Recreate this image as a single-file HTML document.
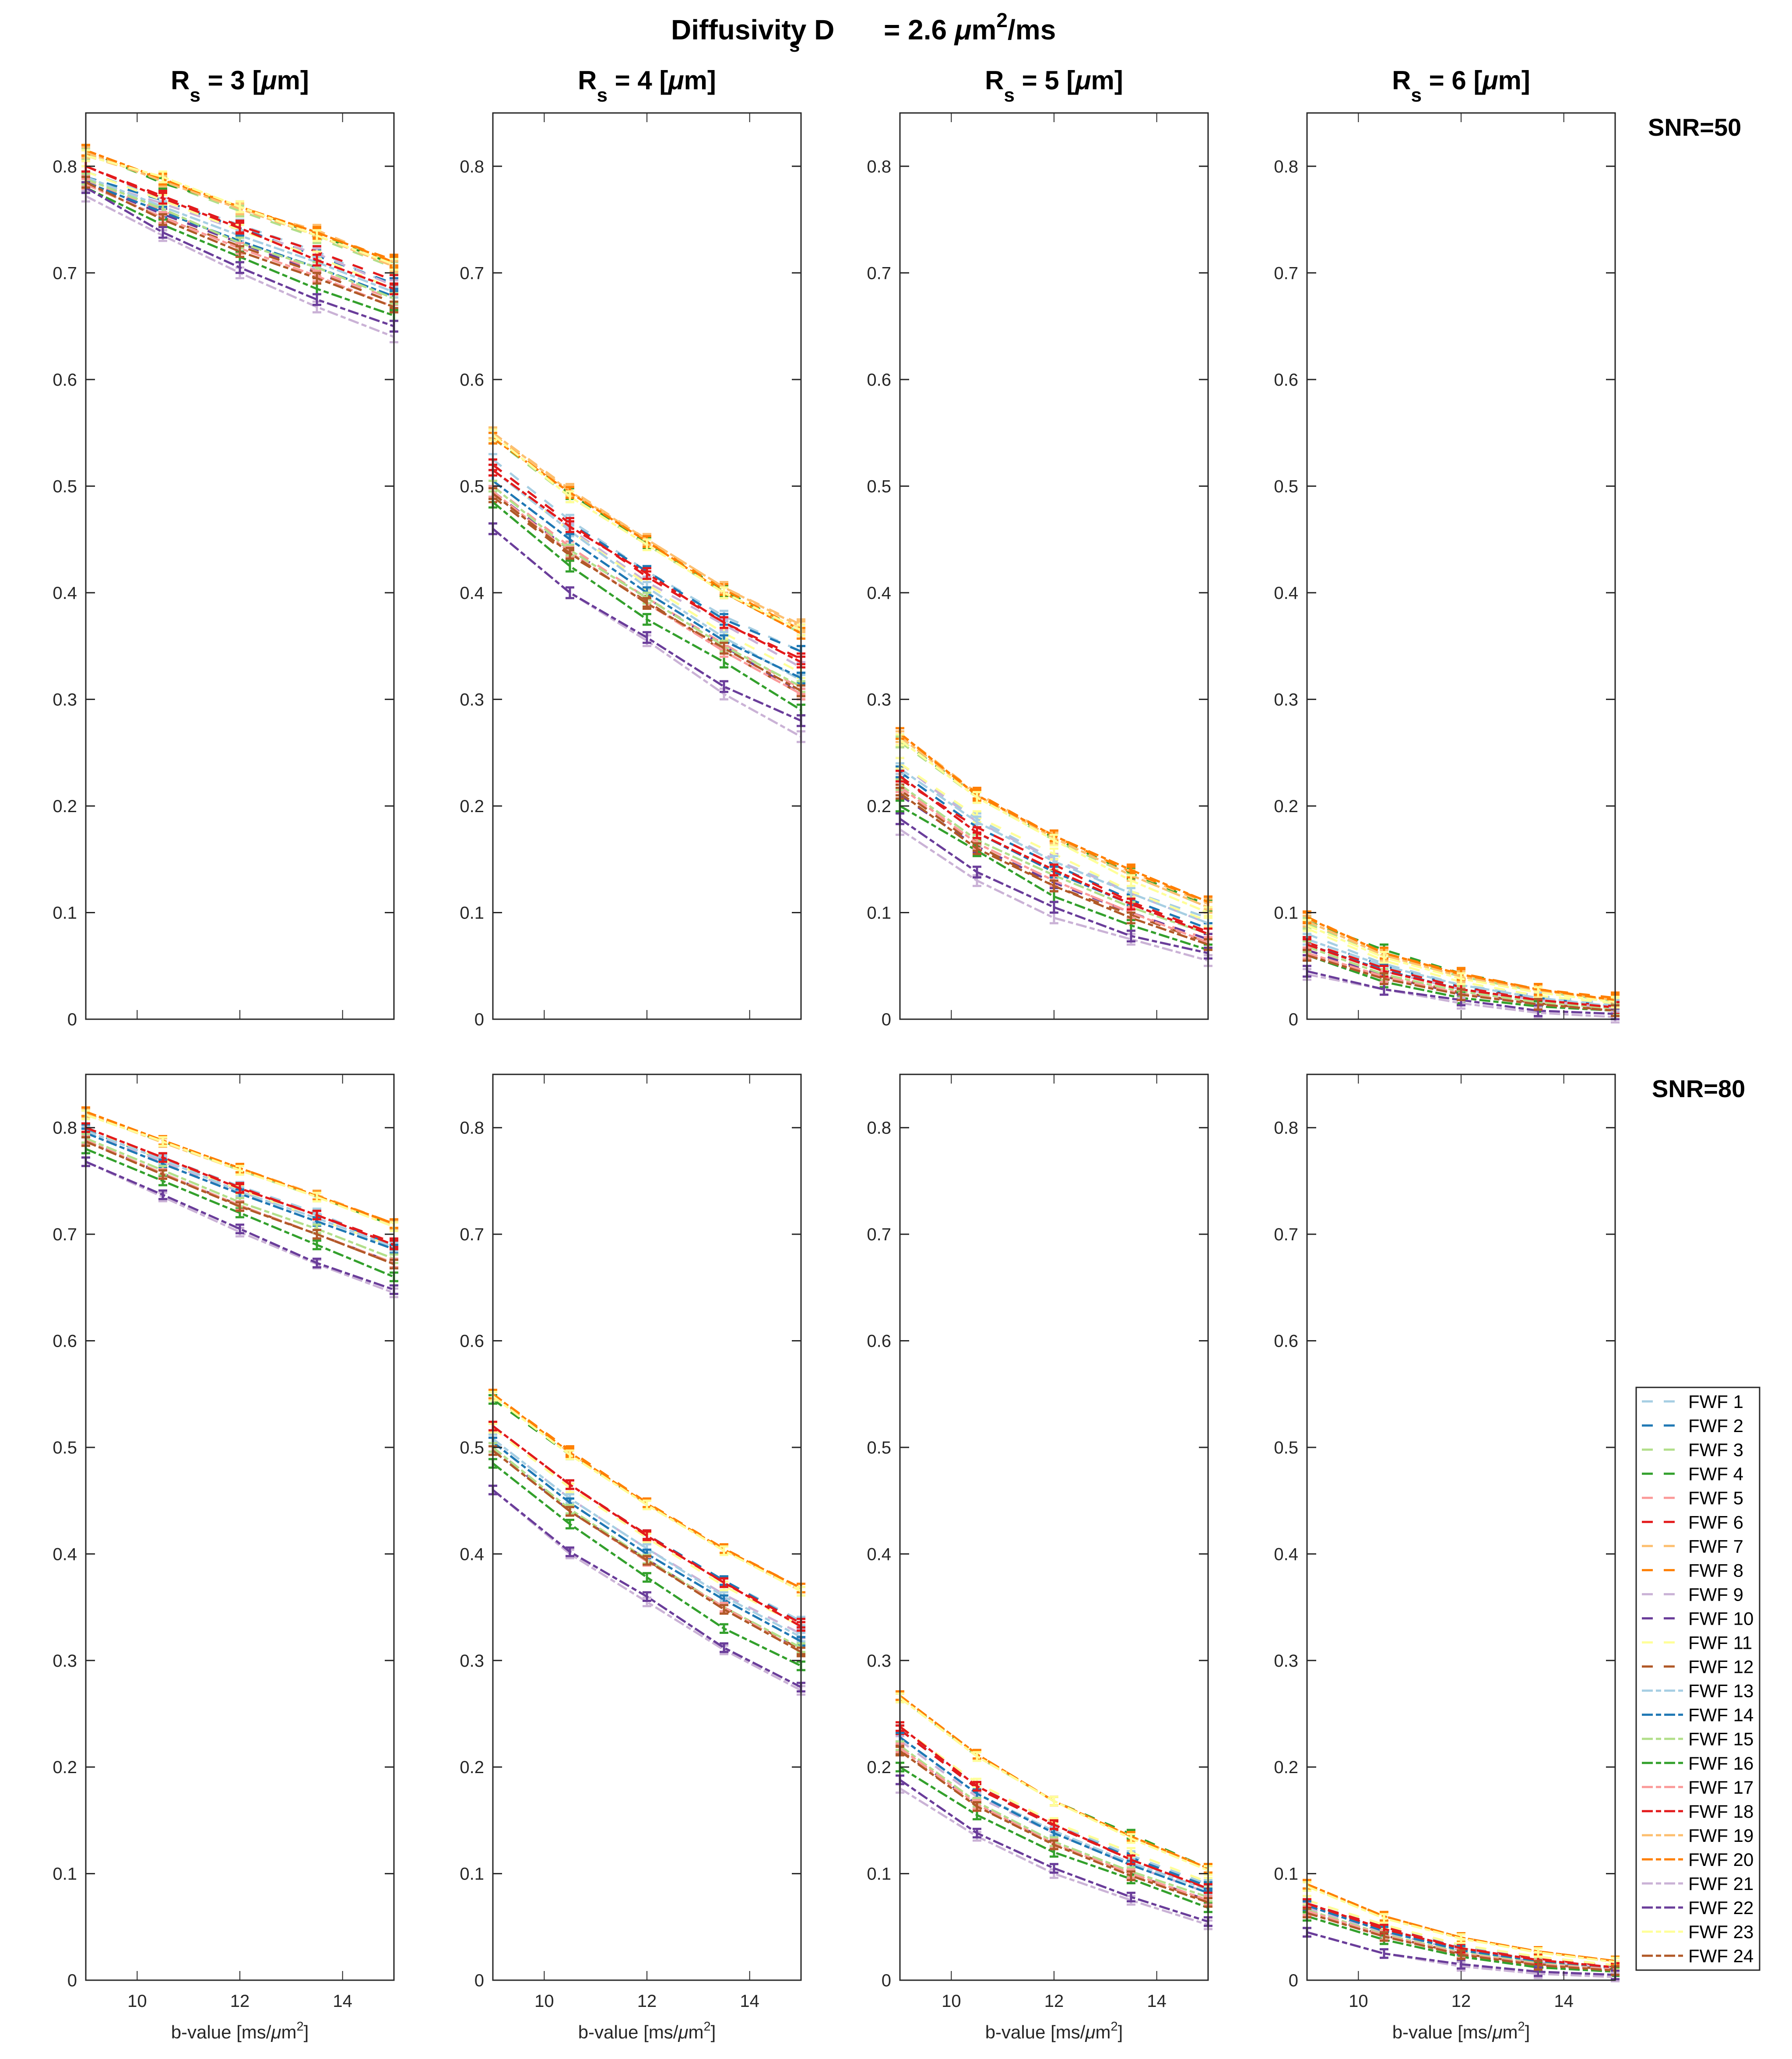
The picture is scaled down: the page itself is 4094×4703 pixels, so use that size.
<!DOCTYPE html>
<html><head><meta charset="utf-8">
<style>
html,body{margin:0;padding:0;background:#fff;}
svg{display:block;font-family:"Liberation Sans",sans-serif;}
</style></head>
<body>
<svg id="chart" width="4094" height="4703" viewBox="0 0 4094 4703" xmlns="http://www.w3.org/2000/svg">
<rect x="0" y="0" width="4094" height="4703" fill="#fff"/>
<text x="1533" y="90" font-size="64" font-weight="bold" fill="#000">Diffusivity D</text>
<text x="1803" y="118" font-size="44" font-weight="bold" fill="#000">s</text>
<text x="2019" y="90" font-size="64" font-weight="bold" fill="#000">= 2.6 <tspan font-style="italic">μ</tspan>m<tspan dy="-28" font-size="46">2</tspan><tspan dy="28">/ms</tspan></text>
<text x="3765" y="310" font-size="56" font-weight="bold" fill="#000">SNR=50</text>
<text x="3774" y="2506" font-size="56" font-weight="bold" fill="#000">SNR=80</text>
<g id="panels"></g>
<g id="legend"></g>
</svg>
<script>
const xValues = [9, 10.5, 12, 13.5, 15];
const xTicks = [10, 12, 14];
const yTicks = [0, 0.1, 0.2, 0.3, 0.4, 0.5, 0.6, 0.7, 0.8];
const yTickLabels = ["0","0.1","0.2","0.3","0.4","0.5","0.6","0.7","0.8"];
const radii = ["3","4","5","6"];
const seriesNames = ["FWF 1","FWF 2","FWF 3","FWF 4","FWF 5","FWF 6","FWF 7","FWF 8","FWF 9","FWF 10","FWF 11","FWF 12","FWF 13","FWF 14","FWF 15","FWF 16","FWF 17","FWF 18","FWF 19","FWF 20","FWF 21","FWF 22","FWF 23","FWF 24"];
const errHalf = [0.005, 0.004];

const snr50R3 = [
[.795,.77,.745,.72,.688],[.79,.768,.742,.716,.69],[.812,.785,.758,.733,.705],[.815,.784,.762,.736,.708],
[.786,.758,.728,.702,.675],[.80,.772,.744,.72,.693],[.81,.788,.76,.74,.71],[.815,.787,.762,.737,.712],
[.788,.765,.74,.718,.688],[.785,.755,.728,.70,.672],[.795,.768,.74,.715,.685],[.783,.752,.725,.70,.672],
[.79,.762,.735,.71,.682],[.785,.757,.73,.705,.678],[.788,.76,.728,.705,.676],[.78,.745,.715,.685,.66],
[.783,.752,.723,.697,.668],[.80,.77,.742,.712,.685],[.813,.786,.76,.735,.706],[.815,.788,.762,.738,.71],
[.772,.735,.70,.668,.64],[.78,.738,.705,.675,.65],[.81,.79,.762,.735,.708],[.785,.75,.72,.695,.668]];
const snr50R4 = [
[.525,.468,.42,.378,.345],[.52,.465,.42,.375,.345],[.545,.49,.445,.40,.362],[.545,.493,.447,.402,.365],
[.50,.443,.395,.352,.31],[.52,.465,.415,.372,.338],[.55,.497,.45,.405,.37],[.548,.495,.448,.403,.365],
[.515,.46,.41,.37,.33],[.495,.44,.395,.35,.305],[.515,.458,.408,.362,.325],[.49,.435,.392,.345,.305],
[.515,.458,.405,.358,.318],[.505,.45,.40,.355,.32],[.50,.44,.395,.35,.312],[.485,.425,.375,.335,.29],
[.495,.438,.39,.345,.305],[.515,.462,.418,.372,.335],[.55,.495,.45,.405,.368],[.545,.494,.448,.40,.362],
[.46,.40,.355,.305,.265],[.46,.40,.358,.312,.28],[.548,.49,.445,.40,.365],[.493,.437,.39,.348,.308]];
const snr50R5 = [
[.24,.188,.15,.12,.095],[.232,.18,.145,.112,.085],[.26,.208,.168,.135,.105],[.262,.21,.17,.137,.107],
[.215,.165,.13,.10,.075],[.225,.18,.145,.11,.082],[.268,.212,.172,.138,.108],[.265,.212,.172,.138,.11],
[.24,.185,.15,.118,.09],[.21,.162,.128,.10,.075],[.24,.19,.155,.12,.092],[.215,.163,.125,.098,.072],
[.235,.185,.148,.118,.09],[.228,.175,.138,.108,.08],[.22,.168,.135,.105,.08],[.20,.158,.115,.088,.065],
[.218,.165,.13,.10,.072],[.228,.175,.14,.108,.08],[.265,.21,.17,.135,.105],[.268,.21,.172,.14,.11],
[.178,.13,.095,.075,.055],[.188,.138,.105,.078,.062],[.262,.208,.168,.13,.10],[.212,.16,.125,.095,.07]];
const snr50R6 = [
[.08,.052,.032,.022,.014],[.075,.05,.03,.02,.012],[.09,.06,.04,.026,.017],[.092,.065,.043,.028,.018],
[.065,.042,.025,.015,.009],[.072,.048,.03,.018,.012],[.095,.062,.042,.028,.018],[.096,.062,.043,.028,.02],
[.07,.045,.028,.018,.01],[.065,.04,.024,.015,.008],[.085,.055,.035,.022,.015],[.062,.04,.025,.015,.008],
[.075,.05,.032,.02,.012],[.07,.046,.028,.018,.01],[.068,.042,.026,.016,.01],[.06,.035,.02,.012,.008],
[.062,.04,.024,.014,.008],[.07,.045,.028,.018,.011],[.092,.06,.04,.027,.017],[.095,.062,.042,.028,.018],
[.042,.028,.015,.006,.002],[.045,.028,.018,.008,.005],[.088,.058,.038,.025,.016],[.06,.038,.023,.014,.008]];
const snr80R3 = [
[.80,.772,.745,.72,.69],[.798,.77,.743,.718,.69],[.812,.787,.76,.735,.708],[.813,.787,.762,.736,.708],
[.788,.757,.727,.70,.673],[.80,.772,.744,.718,.692],[.813,.788,.762,.737,.71],[.813,.788,.762,.736,.71],
[.795,.768,.74,.715,.688],[.788,.757,.727,.70,.673],[.80,.77,.742,.715,.688],[.787,.756,.727,.70,.672],
[.797,.77,.74,.715,.688],[.795,.766,.738,.712,.686],[.79,.76,.73,.705,.677],[.78,.75,.72,.69,.66],
[.788,.757,.727,.70,.673],[.80,.772,.743,.718,.69],[.813,.786,.76,.735,.708],[.815,.788,.762,.736,.71],
[.768,.735,.702,.672,.645],[.768,.737,.705,.673,.648],[.812,.787,.76,.735,.707],[.787,.756,.726,.70,.672]];
const snr80R4 = [
[.52,.465,.418,.375,.337],[.52,.465,.418,.375,.335],[.548,.495,.447,.404,.368],[.545,.493,.447,.404,.368],
[.50,.44,.395,.35,.31],[.52,.465,.418,.373,.335],[.55,.495,.447,.404,.368],[.55,.497,.448,.405,.368],
[.508,.452,.405,.362,.325],[.50,.44,.395,.35,.31],[.518,.462,.415,.37,.332],[.497,.44,.394,.35,.31],
[.508,.452,.405,.36,.322],[.505,.448,.40,.357,.318],[.50,.442,.395,.35,.312],[.485,.428,.378,.33,.295],
[.497,.44,.393,.35,.308],[.52,.465,.417,.373,.332],[.55,.495,.447,.404,.365],[.55,.495,.447,.404,.368],
[.46,.40,.355,.31,.272],[.46,.402,.36,.312,.275],[.548,.493,.446,.403,.365],[.497,.44,.394,.348,.308]];
const snr80R5 = [
[.235,.182,.147,.117,.09],[.235,.18,.145,.115,.088],[.265,.21,.168,.135,.105],[.265,.212,.168,.137,.105],
[.218,.165,.128,.10,.075],[.235,.18,.145,.113,.086],[.267,.212,.168,.135,.105],[.267,.212,.168,.135,.105],
[.225,.172,.138,.108,.082],[.218,.165,.128,.10,.075],[.238,.185,.148,.12,.092],[.216,.164,.128,.10,.074],
[.228,.175,.14,.11,.085],[.228,.175,.138,.108,.082],[.22,.167,.13,.102,.078],[.20,.155,.12,.095,.068],
[.218,.165,.128,.10,.075],[.238,.182,.146,.113,.086],[.265,.21,.168,.135,.105],[.267,.212,.168,.135,.105],
[.18,.135,.10,.075,.052],[.188,.138,.105,.078,.055],[.265,.21,.168,.133,.103],[.215,.163,.127,.098,.073]];
const snr80R6 = [
[.075,.052,.032,.022,.014],[.072,.05,.03,.02,.013],[.088,.06,.04,.027,.018],[.09,.06,.04,.027,.018],
[.065,.042,.025,.015,.01],[.072,.05,.03,.02,.013],[.09,.06,.04,.027,.018],[.09,.06,.04,.027,.018],
[.068,.045,.028,.017,.011],[.065,.042,.025,.015,.01],[.075,.052,.033,.022,.014],[.064,.042,.025,.015,.01],
[.07,.048,.03,.019,.012],[.07,.046,.028,.018,.011],[.066,.043,.026,.016,.01],[.06,.038,.022,.012,.008],
[.065,.042,.025,.015,.01],[.072,.048,.03,.019,.012],[.088,.06,.04,.027,.017],[.09,.06,.04,.027,.018],
[.045,.025,.013,.006,.003],[.045,.025,.015,.008,.005],[.088,.058,.039,.026,.017],[.063,.041,.024,.014,.009]];

const panelData = [[snr50R3, snr50R4, snr50R5, snr50R6],[snr80R3, snr80R4, snr80R5, snr80R6]];

const colors = ["#a6cee3","#1f78b4","#b2df8a","#33a02c","#fb9a99","#e31a1c","#fdbf6f","#ff7f00","#cab2d6","#6a3d9a","#ffff99","#b15928"];
const NS = "http://www.w3.org/2000/svg";
const panelLeft = [196, 1126, 2056, 2986];
const panelW = 704;
const rowTop = [258, 2454];
const rowBottom = [2328, 4523];
const xMin = 9, xMax = 15, yMin = 0, yMax = 0.85;
const axisColor = "#262626";

function mk(tag, attrs, parent){
  const e = document.createElementNS(NS, tag);
  for (const k in attrs) e.setAttribute(k, attrs[k]);
  parent.appendChild(e);
  return e;
}
function seriesColor(i){ return colors[i % 12]; }
function seriesDash(i){ return i < 12 ? "25 25" : "25 7 12 7"; }

const panelsG = document.getElementById('panels');
for (let r = 0; r < 2; r++) {
  for (let c = 0; c < 4; c++) {
    const L = panelLeft[c], R = L + panelW, T = rowTop[r], B = rowBottom[r];
    const sx = v => L + (v - xMin) / (xMax - xMin) * panelW;
    const sy = v => B - (v - yMin) / (yMax - yMin) * (B - T);
    const g = mk('g', {}, panelsG);
    
    
    if (r === 0) {
      const t = mk('text', {x: L + panelW/2, y: 204, 'font-size': 60, 'font-weight': 'bold', 'text-anchor': 'middle', fill: '#000'}, g);
      
      
      t.innerHTML = 'R<tspan dy="28" font-size="44">s</tspan><tspan dy="-28"> = ' + radii[c] + ' [</tspan><tspan font-style="italic">μ</tspan>m]';
    }
    const data = panelData[r][c];
    const eh = errHalf[r];
    data.forEach((vals, i) => {
      const col = seriesColor(i);
      const d = vals.map((v, k) => (k ? 'L' : 'M') + sx(xValues[k]).toFixed(1) + ' ' + sy(v).toFixed(1)).join(' ');
      const p = mk('path', {d: d, fill: 'none', stroke: col, 'stroke-width': 5, 'stroke-dasharray': seriesDash(i)}, g);
      
      
      let ed = '';
      vals.forEach((v, k) => {
        const x = sx(xValues[k]), y1 = sy(v - eh), y2 = sy(v + eh);
        ed += 'M' + x.toFixed(1) + ' ' + y1.toFixed(1) + 'V' + y2.toFixed(1) +
              'M' + (x - 10).toFixed(1) + ' ' + y1.toFixed(1) + 'h20' +
              'M' + (x - 10).toFixed(1) + ' ' + y2.toFixed(1) + 'h20';
      });
      const e = mk('path', {d: ed, fill: 'none', stroke: col, 'stroke-width': 5}, g);
      
      
    });
    const fr = mk('rect', {x: L, y: T, width: panelW, height: B - T, fill: 'none', stroke: axisColor, 'stroke-width': 3}, g);
    
    
    yTicks.forEach((v, k) => {
      const y = sy(v);
      const tk = mk('path', {d: 'M' + L + ' ' + y + 'h21M' + R + ' ' + y + 'h-21', stroke: axisColor, 'stroke-width': 3}, g);
      
      
      const tl = mk('text', {x: L - 20, y: y + 14, 'font-size': 40, 'text-anchor': 'end', fill: axisColor}, g);
      
      
      tl.textContent = yTickLabels[k];
    });
    xTicks.forEach(v => {
      const x = sx(v);
      const tk = mk('path', {d: 'M' + x + ' ' + B + 'v-21M' + x + ' ' + T + 'v21', stroke: axisColor, 'stroke-width': 2}, g);
      
      
      if (r === 1) {
        const tl = mk('text', {x: x, y: 4584, 'font-size': 40, 'text-anchor': 'middle', fill: axisColor}, g);
        
        
        tl.textContent = String(v);
      }
    });
    if (r === 1) {
      const xl = mk('text', {x: L + panelW/2, y: 4656, 'font-size': 42, 'text-anchor': 'middle', fill: axisColor}, g);
      
      
      xl.innerHTML = 'b-value [ms/<tspan font-style="italic">μ</tspan>m<tspan dy="-18" font-size="29">2</tspan><tspan dy="18">]</tspan>';
    }
  }
}

const lg = document.getElementById('legend');
const box = mk('rect', {x: 3738, y: 3169, width: 282, height: 1331, fill: '#fff', stroke: axisColor, 'stroke-width': 3}, lg);


seriesNames.forEach((name, i) => {
  const y = 3201 + i * 55.05;
  const eg = mk('g', {}, lg);
  
  
  mk('line', {x1: 3751, x2: 3845, y1: y, y2: y, stroke: seriesColor(i), 'stroke-width': 5, 'stroke-dasharray': seriesDash(i)}, eg);
  const t = mk('text', {x: 3857, y: y + 15, 'font-size': 42, fill: '#000'}, eg);
  t.textContent = name;
});
</script>
</body></html>
